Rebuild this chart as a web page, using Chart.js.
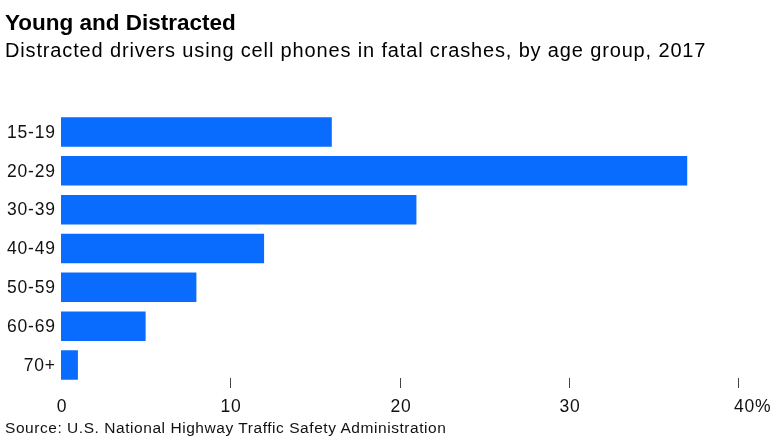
<!DOCTYPE html>
<html>
<head>
<meta charset="utf-8">
<script src="https://cdn.jsdelivr.net/npm/chart.js@4/dist/chart.umd.min.js"></script>
<style>
	body { margin: 0; background: #fff; font-family: "Liberation Sans", Arial, sans-serif; }
	#wrap { position: relative; width: 779px; height: 446px; overflow: hidden; }
	#chart { position: absolute; left: 0; top: 0; }
	.txt { position: absolute; left: 5px; white-space: nowrap; color: #000; }
	#title { top: 9.5px; font-size: 22.5px; font-weight: bold; }
	#subtitle { top: 39px; font-size: 20px; letter-spacing: 0.85px; }
	#source { top: 419px; font-size: 15.5px; letter-spacing: 0.55px; color: #111; }
</style>
</head>
<body>
<div id="wrap">
	<canvas id="chart" width="779" height="446"></canvas>
	<div class="txt" id="title">Young and Distracted</div>
	<div class="txt" id="subtitle">Distracted drivers using cell phones in fatal crashes, by age group, 2017</div>
	<div class="txt" id="source">Source: U.S. National Highway Traffic Safety Administration</div>
</div>
<script>
const ageGroups = ['15-19', '20-29', '30-39', '40-49', '50-59', '60-69', '70+'];
const shares = [16, 37, 21, 12, 8, 5, 1];
const xTicks = [0, 10, 20, 30, 40];

const labelFont = '17.5px "Liberation Sans", Arial, sans-serif';

// axis labels drawn by hand so the wide letter spacing and the hanging "%" can be matched
const axisPlugin = {
	id: 'axisLabels',
	afterDraw(chart) {
		const ctx = chart.ctx;
		const x = chart.scales.x;
		const y = chart.scales.y;
		ctx.save();
		ctx.font = labelFont;
		ctx.letterSpacing = '0.8px';
		ctx.fillStyle = '#111';
		ctx.strokeStyle = '#444';
		ctx.lineWidth = 1;

		// y categories, right aligned to the left of the bars
		ctx.textBaseline = 'middle';
		ctx.textAlign = 'right';
		ageGroups.forEach((g, i) => {
			ctx.fillText(g, 55.8, y.getPixelForValue(i) + 1);
		});

		// x ticks and values
		ctx.textBaseline = 'top';
		xTicks.forEach((v, i) => {
			const px = Math.round(x.getPixelForValue(v));
			if (v !== 0) {
				ctx.beginPath();
				ctx.moveTo(px + 0.5, 378);
				ctx.lineTo(px + 0.5, 388);
				ctx.stroke();
			}
			if (i === xTicks.length - 1) {
				ctx.textAlign = 'left';
				ctx.fillText(v + '%', px - 4, 398);
			} else {
				ctx.textAlign = 'center';
				ctx.fillText(String(v), px + 1, 398);
			}
		});
		ctx.restore();
	}
};

new Chart(document.getElementById('chart'), {
	type: 'bar',
	data: {
		labels: ageGroups,
		datasets: [{
			data: shares,
			backgroundColor: '#0a6cff',
			borderWidth: 0,
			barPercentage: 0.76,
			categoryPercentage: 1
		}]
	},
	options: {
		indexAxis: 'y',
		responsive: false,
		animation: false,
		layout: { padding: { top: 112.6, bottom: 61.6, left: 61, right: 41 } },
		plugins: { legend: { display: false }, tooltip: { enabled: false } },
		scales: {
			x: { display: false, min: 0, max: 40 },
			y: { display: false }
		}
	},
	plugins: [axisPlugin]
});
</script>
</body>
</html>
